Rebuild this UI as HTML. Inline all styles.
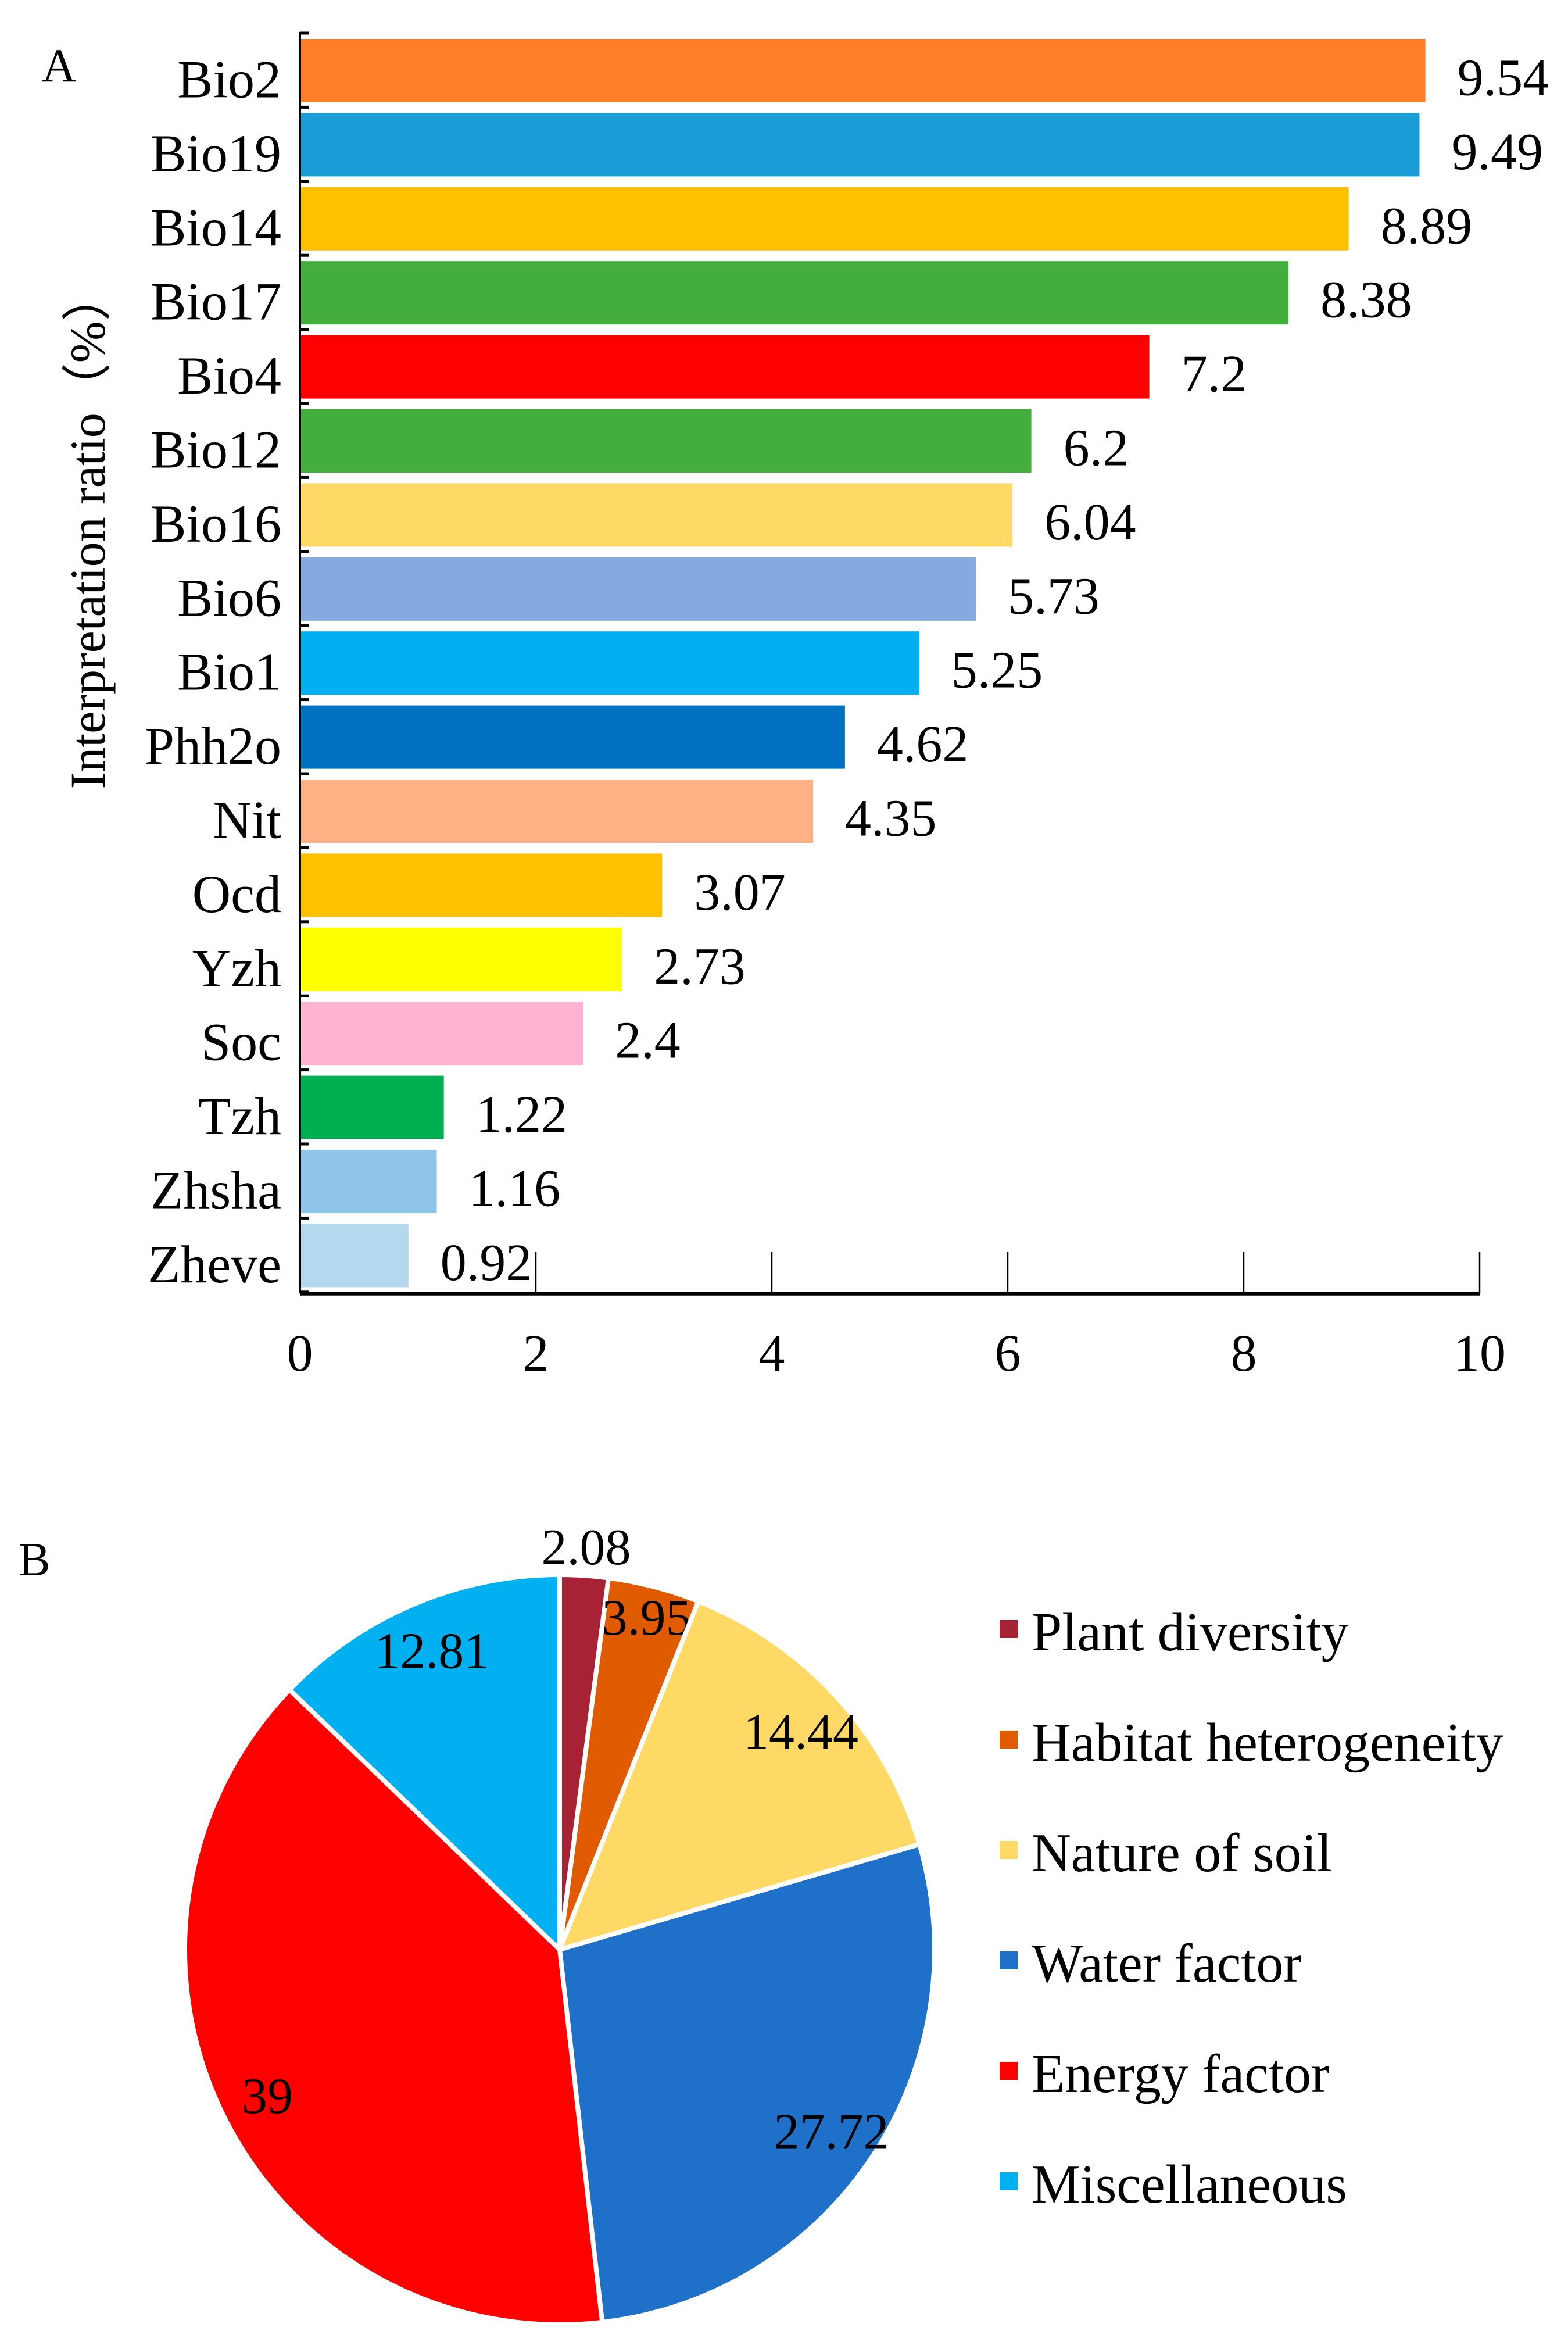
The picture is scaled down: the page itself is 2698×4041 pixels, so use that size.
<!DOCTYPE html>
<html><head><meta charset="utf-8">
<style>
html,body{margin:0;padding:0;background:#fff;}
svg, svg text{font-family:"Liberation Serif",serif;}
svg{display:block;}
</style></head>
<body>
<svg id="fig" width="2698" height="4041" viewBox="0 0 2698 4041" xmlns="http://www.w3.org/2000/svg" font-family="Liberation Serif, serif">
<rect width="2698" height="4041" fill="#fff"/>
<text x="72" y="140" font-size="82" font-family="Liberation Serif, serif">A</text>
<text x="32" y="2710" font-size="82" font-family="Liberation Serif, serif">B</text>
<text transform="translate(180,912) rotate(-90)" text-anchor="middle" font-size="86" font-family="'Liberation Serif','Noto Serif CJK SC',serif">Interpretation ratio（%）</text>
<g id="bars" font-family="Liberation Serif, serif"></g>
<g id="pie" font-family="Liberation Serif, serif"></g>
</svg>
<script>
const categories = ["Bio2","Bio19","Bio14","Bio17","Bio4","Bio12","Bio16","Bio6","Bio1","Phh2o","Nit","Ocd","Yzh","Soc","Tzh","Zhsha","Zheve"];
const values = [9.54,9.49,8.89,8.38,7.2,6.2,6.04,5.73,5.25,4.62,4.35,3.07,2.73,2.4,1.22,1.16,0.92];
const valueLabels = ["9.54","9.49","8.89","8.38","7.2","6.2","6.04","5.73","5.25","4.62","4.35","3.07","2.73","2.4","1.22","1.16","0.92"];
const barColors = ["#FF7F27","#1A9CD6","#FFC000","#43AE3B","#FF0000","#43AE3B","#FFD966","#84AADF","#00B0F0","#0070C0","#FFB084","#FFC000","#FFFF00","#FFB3D0","#00B050","#8EC5E8","#B4D8EE"];
const xTicks = [0,2,4,6,8,10];
const xTickLabels = ["0","2","4","6","8","10"];

const pieLabels = ["Plant diversity","Habitat heterogeneity","Nature of soil","Water factor","Energy factor","Miscellaneous"];
const pieValues = [2.08,3.95,14.44,27.72,39,12.81];
const pieValueLabels = ["2.08","3.95","14.44","27.72","39","12.81"];
const pieColors = ["#A62234","#E05A00","#FFD966","#1F70C8","#FF0000","#00B0F0"];

const NS="http://www.w3.org/2000/svg";
function mk(tag, attrs, parent){const e=document.createElementNS(NS,tag);for(const k in attrs)e.setAttribute(k,attrs[k]);if(tag==='text')e.setAttribute('font-family','Liberation Serif, serif');parent.appendChild(e);return e;}

// ---- bar chart ----
const X0=516, XU=203, Y0=57, BAND=127.4, BARH=109;
const xs=v=>X0+v*XU;
const yb=i=>Y0+i*BAND;
const gb=document.getElementById('bars');
categories.forEach((c,i)=>{
  const r=mk('rect',{x:X0,y:yb(i)+10,width:xs(values[i])-X0,height:BARH,fill:barColors[i]},gb);
  
  
  const t=mk('text',{x:484,y:yb(i)+10+BARH/2+46,'text-anchor':'end','font-size':92},gb);
  t.textContent=c;
  
  
  const vl=mk('text',{x:xs(values[i])+55,y:yb(i)+10+BARH/2+42,'font-size':90},gb);
  vl.textContent=valueLabels[i];
  
  
});
for(let i=0;i<=categories.length;i++){
  const tk=mk('line',{x1:X0,x2:X0+16,y1:yb(i),y2:yb(i),stroke:'#000','stroke-width':5},gb);
  
  
}
const yAxis=mk('line',{x1:X0,x2:X0,y1:Y0-2,y2:yb(categories.length)+2,stroke:'#000','stroke-width':4},gb);


const AXY=yb(categories.length)+3;
const xAxis=mk('line',{x1:X0,x2:xs(10),y1:AXY,y2:AXY,stroke:'#000','stroke-width':6},gb);


xTicks.forEach((v,i)=>{
  if(v>0){
    const tk=mk('line',{x1:xs(v),x2:xs(v),y1:AXY-72,y2:AXY,stroke:'#000','stroke-width':2.5},gb);
    
    
  }
  const t=mk('text',{x:xs(v),y:2358,'text-anchor':'middle','font-size':90},gb);
  t.textContent=xTickLabels[i];
  
  
});

// ---- pie chart ----
const CX=963, CY=3354, R=645;
const gp=document.getElementById('pie');
const total=pieValues.reduce((a,b)=>a+b,0);
let acc=0;
const pt=(ang,r)=>[CX+r*Math.sin(ang),CY-r*Math.cos(ang)];
pieValues.forEach((v,i)=>{
  const a0=acc/total*2*Math.PI; acc+=v; const a1=acc/total*2*Math.PI;
  const p0=pt(a0,R), p1=pt(a1,R);
  const large=(a1-a0)>Math.PI?1:0;
  const s=mk('path',{d:`M${CX},${CY} L${p0[0]},${p0[1]} A${R},${R} 0 ${large} 1 ${p1[0]},${p1[1]} Z`,fill:pieColors[i],stroke:'#fff','stroke-width':8,'stroke-linejoin':'round'},gp);
  
  
  const pct=v/total*100;
  const f=pct<3?1.08:(pct<5?0.92:0.87);
  const mid=(a0+a1)/2;
  const lp=pt(mid,R*f);
  const t=mk('text',{x:lp[0],y:lp[1]+32,'text-anchor':'middle','font-size':88},gp);
  t.textContent=pieValueLabels[i];
  
  
});
pieLabels.forEach((l,i)=>{
  const y=2809+i*190;
  const sq=mk('rect',{x:1720,y:y-22,width:31,height:31,fill:pieColors[i]},gp);
  
  
  const t=mk('text',{x:1775,y:y+30,'font-size':94},gp);
  t.textContent=l;
  
  
});
</script>
</body></html>
